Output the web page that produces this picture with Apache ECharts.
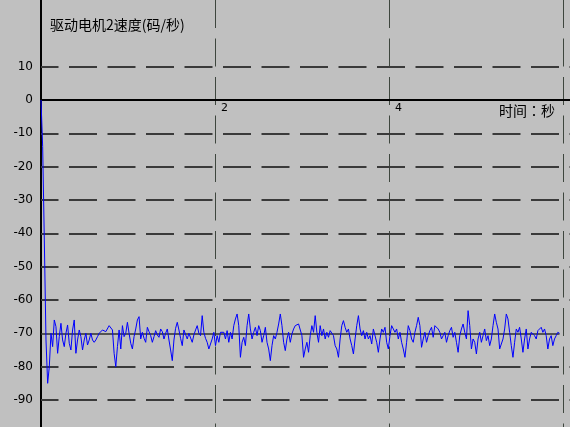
<!DOCTYPE html>
<html>
<head>
<meta charset="utf-8">
<script src="https://cdn.jsdelivr.net/npm/echarts@6/dist/echarts.min.js"></script>
<style>
  html, body { margin: 0; padding: 0; background: #c0c0c0; }
  #chart { width: 570px; height: 427px; }
</style>
</head>
<body>
<div id="chart"></div>
<script>
// Drive motor 2 speed record (yards per second), sampled at a fixed interval
const chartTitle = '驱动电机2速度(码/秒)';
const timeAxisName = '时间：秒';
const sampleInterval = 0.0191;          // seconds between samples
const targetSpeed = -70;                // commanded speed
const speedGridLevels = [10, -10, -20, -30, -40, -50, -60, -80, -90];
const timeTickLabels = [2, 4];
const speedLabelTop = 10;

const speedSamples = [
  0, -14, -42, -72, -85, -80, -70, -74, -66, -68,
  -76, -71, -67, -72, -74, -70, -67.5, -73, -75, -69,
  -66, -76, -72, -69, -71, -75, -72, -70, -73.5, -72,
  -70, -72, -72.7, -72, -71, -70, -69.7, -69, -68.7, -69.5,
  -69, -67.7, -67.2, -69, -76, -80, -74, -69, -74.7, -67.7,
  -71, -70, -66.7, -70, -73, -74.7, -71, -68.7, -66, -65,
  -71.7, -69.7, -71.5, -72.7, -68.2, -69.5, -70.7, -72.7, -71, -69.2,
  -70.5, -71.2, -68.7, -69.5, -71.7, -70, -68.7, -72, -75, -78.2,
  -72, -68.5, -66.7, -69, -71.5, -73.7, -69, -68.5, -71.7, -70,
  -69.5, -72.7, -70.5, -69, -67.7, -70, -70.7, -64.7, -69.7, -71.5,
  -72.7, -74.7,
  -74.7, -71.7, -69.7, -73.7, -70.7, -72.7, -69.7, -69.2, -69.7, -71.7,
  -69.2, -72.7, -69.7, -71.7, -67.7, -65.7, -64.2, -67.7, -77.2, -72.7,
  -71.2, -73.7, -67.7, -64.2, -68.7, -71.7, -69.7, -68.2, -70.7, -67.7,
  -69.2, -72.7, -70.7, -68.2, -72.7, -74.7, -78.2, -73.7, -70.7, -71.7,
  -69.7, -67.2, -64.2, -67.7, -72.7, -75.2, -71.7, -69.7, -72.7, -70.2,
  -68.7, -67.7, -68.2, -67.2, -66.7, -70.7, -77.2, -74.7, -72.7, -75.7,
  -70.7, -67.7, -69.7, -64.7, -69.7, -72.7, -67.7, -70.7, -68.7, -71.7,
  -69.7, -71.2, -69.2, -69.7, -70.7, -73.7, -74.7, -77.2, -71.7, -67.7,
  -66.2, -68.2, -69.7, -68.7, -71.7, -73.7, -76.2, -71.7, -67.7, -64.7,
  -68.7, -70.7, -69.2, -71.7, -69.7, -71.7, -70.7, -73.2, -68.7, -68.2,
  -72.7, -75.7,
  -71.7, -68.7, -69.7, -68.2, -72.7, -74.7, -70.7, -67.7, -67.2, -69.7,
  -68.7, -71.7, -69.7, -72.7, -74.7, -77.2, -72.7, -67.7, -69.2, -71.7,
  -72.7, -69.7, -67.7, -65.2, -67.7, -74.2, -71.7, -69.7, -72.7, -70.7,
  -69.2, -68.2, -71.2, -67.7, -67.2, -68.7, -69.7, -71.7, -70.7, -69.7,
  -72.7, -70.7, -69.2, -68.2, -71.2, -69.7, -72.7, -75.7, -70.7, -68.7,
  -67.2, -69.7, -71.7, -63.2, -67.7, -74.7, -71.7, -72.7, -76.2, -71.7,
  -69.7, -72.7, -70.7, -68.7, -72.2, -70.7, -73.7, -71.7, -67.7, -64.2,
  -66.7, -68.7, -74.7, -75.2, -71.7, -68.7, -64.2, -65.7, -69.7, -73.7,
  -77.2, -72.7, -68.7, -69.7, -68.2, -71.7, -75.7, -71.7, -68.7, -74.7,
  -71.7, -69.7, -69.2, -70.7, -71.7, -69.2, -69.7, -68.2, -69.7, -68.7,
  -70.7, -74.7, -71.7, -70.7, -73.7, -71.7, -70.7, -69.7, -70
];

const speedMin = -100;
const speedMax = 30;

const sampleTimes = speedSamples.map((_, i) => +(i * sampleInterval).toFixed(4));
const speedPoints = sampleTimes.map((t, i) => [t, speedSamples[i]]);
const lastTime = sampleTimes[sampleTimes.length - 1];

// plot area: full height of the panel, slightly taller than the window so -100 sits just below it
const chartHeight = 427;
const gridTop = 0;
const gridBottom = -6.3;
const plotHeight = chartHeight - gridTop - gridBottom;
// distance from the top edge down to the zero line, used to hang the time axis on it
const zeroOffset = plotHeight * speedMax / (speedMax - speedMin);

const chart = echarts.init(document.getElementById('chart'), null, { renderer: 'canvas' });

chart.setOption({
  backgroundColor: '#c0c0c0',
  animation: false,
  grid: {
    left: 41, right: 0, top: gridTop, bottom: gridBottom,
    containLabel: false, outerBoundsMode: 'none'
  },
  xAxis: {
    type: 'value',
    position: 'top',
    offset: -zeroOffset,
    min: 0,
    max: 6.08,
    interval: 2,
    axisLine: { show: true, onZero: false, lineStyle: { color: '#000', width: 2 } },
    axisTick: { show: false },
    axisLabel: {
      show: true,
      inside: true,
      margin: 3,
      align: 'left',
      verticalAlign: 'top',
      padding: [0, 0, 0, 6],
      color: '#000',
      fontFamily: 'DejaVu Sans',
      fontSize: 11,
      formatter: v => (timeTickLabels.includes(v) ? String(v) : '')
    },
    splitLine: {
      show: true,
      lineStyle: { color: '#3e463e', width: 1, type: [28, 10.5], dashOffset: 0 }
    }
  },
  yAxis: {
    type: 'value',
    min: speedMin,
    max: speedMax,
    interval: 10,
    axisLine: { show: true, onZero: false, lineStyle: { color: '#000', width: 2 } },
    axisTick: { show: false },
    axisLabel: {
      show: true,
      margin: 8,
      color: '#000',
      fontFamily: 'DejaVu Sans',
      fontSize: 12,
      formatter: v => (v <= speedLabelTop && v > speedMin ? String(v) : '')
    },
    splitLine: { show: false }
  },
  graphic: [
    {
      type: 'text', left: 50, top: 18, silent: true,
      style: { text: chartTitle, fill: '#000', font: '14px "Noto Sans CJK SC"' }
    },
    {
      type: 'text', left: 499, top: 104, silent: true,
      style: { text: timeAxisName, fill: '#000', font: '14px "Noto Sans CJK TC"' }
    }
  ],
  series: [
    {
      type: 'line',
      data: speedPoints,
      showSymbol: false,
      symbol: 'none',
      clip: true,
      lineStyle: { color: '#0000ff', width: 1 },
      z: 3,
      markLine: {
        silent: true,
        z: 1,
        symbol: 'none',
        label: { show: false },
        emphasis: { disabled: true },
        lineStyle: { color: '#3a3a3a', width: 2, type: [28, 10.5], dashOffset: 10.5 },
        data: speedGridLevels.map(v => ({ yAxis: v })).concat([
          [
            { coord: [0, targetSpeed], lineStyle: { type: 'solid', width: 1.5, color: '#303030' } },
            { coord: [lastTime, targetSpeed] }
          ]
        ])
      }
    }
  ]
});
</script>
</body>
</html>
